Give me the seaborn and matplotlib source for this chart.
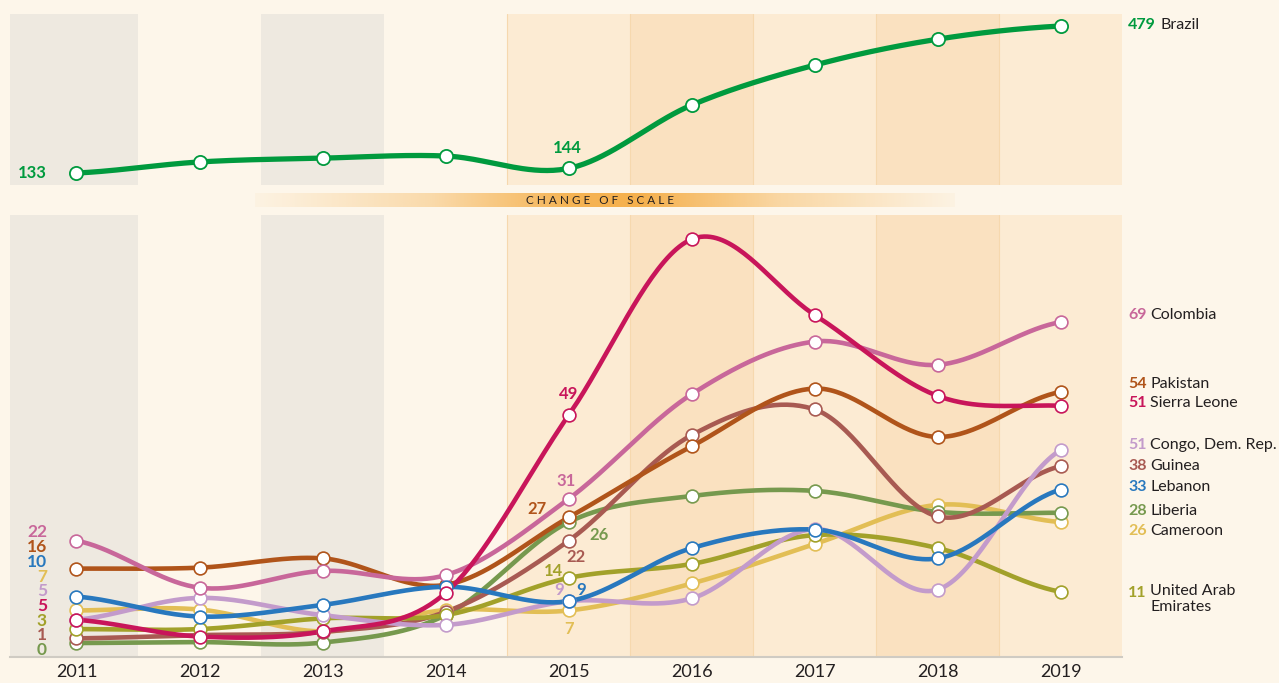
import numpy as np
import pandas as pd
import seaborn as sns
import matplotlib.pyplot as plt

sns.set_style("white")
plt.rcParams['font.family'] = ['Lato', 'DejaVu Sans']

# data
years = [2011, 2012, 2013, 2014, 2015, 2016, 2017, 2018, 2019]
brazil = [133, 159, 168, 173, 144, 293, 387, 448, 479]

countries = ['Cameroon', 'Liberia', 'Guinea', 'United Arab Emirates', 'Congo, Dem. Rep.',
             'Pakistan', 'Colombia', 'Lebanon', 'Sierra Leone']
colombia = [22, 11.9, 15.5, 14.6, 31, 53.5, 64.8, 59.8, 69]
pakistan = [16, 16.2, 18.2, 12.5, 27, 42.3, 54.7, 44.3, 54]
sierra_leone = [5, 1.4, 2.5, 10.8, 49, 86.8, 70.5, 53.1, 51]
congo = [5, 9.7, 6, 3.9, 9, 9.6, 24.5, 11.5, 41.5]
guinea = [1, 1.7, 2.4, 6.7, 22, 44.7, 50.2, 27.2, 38]
lebanon = [10, 5.7, 8.2, 12.1, 9, 20.4, 24.4, 18.2, 33]
liberia = [0, 0.2, 0.1, 6, 26, 31.6, 32.7, 28.2, 28]
cameroon = [7, 7.2, 2.5, 7.1, 7, 12.8, 21.3, 29.7, 26]
uae = [3, 3.0, 5.3, 6.0, 14, 17.0, 23.2, 20.4, 11]
# numbers printed at the right-hand end (Congo's printed value differs from its drawn point)
end_labels = {'Colombia': 69, 'Pakistan': 54, 'Sierra Leone': 51, 'Congo, Dem. Rep.': 51,
              'Guinea': 38, 'Lebanon': 33, 'Liberia': 28, 'Cameroon': 26,
              'United Arab Emirates': 11}

series = {'Colombia': colombia, 'Pakistan': pakistan, 'Sierra Leone': sierra_leone,
          'Congo, Dem. Rep.': congo, 'Guinea': guinea, 'Lebanon': lebanon,
          'Liberia': liberia, 'Cameroon': cameroon, 'United Arab Emirates': uae}

colors = {'Colombia': '#C8679A', 'Pakistan': '#B0541A', 'Sierra Leone': '#C8155A',
          'Congo, Dem. Rep.': '#C39BCB', 'Guinea': '#A85A52', 'Lebanon': '#2878BE',
          'Liberia': '#76994E', 'Cameroon': '#E2BE55', 'United Arab Emirates': '#A2A12A'}
brazil_col = '#009A3E'
text_col = '#231F20'
W, H = 1279, 683


def smooth(xs, ys, n=40):
    # catmull-rom curve through the points, only for drawing
    xs = np.asarray(xs, float)
    ys = np.asarray(ys, float)
    p = np.concatenate([[ys[0]], ys, [ys[-1]]])
    ox, oy = [], []
    for i in range(len(ys) - 1):
        t = np.linspace(0, 1, n, endpoint=(i == len(ys) - 2))
        p0, p1, p2, p3 = p[i], p[i + 1], p[i + 2], p[i + 3]
        y = 0.5 * (2 * p1 + (-p0 + p2) * t + (2 * p0 - 5 * p1 + 4 * p2 - p3) * t ** 2
                   + (-p0 + 3 * p1 - 3 * p2 + p3) * t ** 3)
        ox.extend(xs[i] + t * (xs[i + 1] - xs[i]))
        oy.extend(y)
    return ox, oy


def figpos(x, y):
    return x / W, 1 - y / H


fig = plt.figure(figsize=(12.79, 6.83), dpi=100)
fig.patch.set_facecolor('#FDF6EA')

ax_top = fig.add_axes([10 / W, 1 - 185 / H, 1112.5 / W, 171 / H])
ax_bot = fig.add_axes([10 / W, 1 - 657 / H, 1112.5 / W, 442 / H])

bands = ['#EEE9E0', '#FDF6EA', '#EEE9E0', '#FDF6EA', '#FCEBD3', '#FAE1C0',
         '#FCEBD3', '#FAE1C0', '#FCEBD3']
for ax in (ax_top, ax_bot):
    ax.set_facecolor('#FDF6EA')
    for yr, c in zip(years, bands):
        ax.axvspan(yr - 0.6 if yr == years[0] else yr - 0.5, yr + 0.5, color=c, lw=0, zorder=0)
    for yr in years[4:]:
        ax.axvline(yr - 0.5, color='#F6D8AE', lw=0.8, zorder=0.5)
    ax.set_xlim(2010.46, 2019.5)
    for s in ax.spines.values():
        s.set_visible(False)

# top panel: Brazil
bx, by = smooth(years, brazil)
sns.lineplot(x=bx, y=by, color=brazil_col, linewidth=3.8, ax=ax_top, sort=False,
             estimator=None, zorder=3)
ax_top.scatter(years, brazil, s=90, facecolor='white', edgecolor=brazil_col,
               linewidth=1.3, zorder=5)
ax_top.set_ylim(104.8, 507.2)
ax_top.set_xticks([])
ax_top.set_yticks([])
ax_top.annotate(f"{brazil[0]}", (years[0], brazil[0]), xytext=(-32, 0),
                textcoords='offset points', ha='center', va='center',
                fontsize=12, fontweight='bold', color=brazil_col)
ax_top.annotate(f"{brazil[4]}", (years[4], brazil[4]), xytext=(-1, 15),
                textcoords='offset points', ha='center', va='center',
                fontsize=12, fontweight='bold', color=brazil_col)

# bottom panel
rows = []
for name in countries:
    sx, sy = smooth(years, series[name])
    rows.append(pd.DataFrame({'year': sx, 'value': sy, 'country': name}))
df = pd.concat(rows, ignore_index=True)
sns.lineplot(data=df, x='year', y='value', hue='country', hue_order=countries,
             palette=colors, linewidth=3.3, legend=False, ax=ax_bot, sort=False,
             estimator=None, zorder=3)
for name in countries:
    ax_bot.scatter(years, series[name], s=85, facecolor='white',
                   edgecolor=colors[name], linewidth=1.2, zorder=5)
ax_bot.set_ylim(-3, 92)
ax_bot.set_yticks([])
ax_bot.set_xticks(years)
ax_bot.set_xticklabels([str(y) for y in years], fontsize=13, color=text_col)
ax_bot.tick_params(axis='x', length=0, pad=5)
ax_bot.spines['bottom'].set_visible(True)
ax_bot.spines['bottom'].set_color('#CFCBC3')
ax_bot.spines['bottom'].set_linewidth(1.5)
ax_bot.set_xlabel('')
ax_bot.set_ylabel('')

# left-hand start values, stacked
left_order = ['Colombia', 'Pakistan', 'Lebanon', 'Cameroon', 'Congo, Dem. Rep.',
              'Sierra Leone', 'United Arab Emirates', 'Guinea', 'Liberia']
for i, name in enumerate(left_order[::-1]):
    fig.text(*figpos(47, 650 - i * 14.7), f"{series[name][0]:.0f}", ha='right', va='center',
             fontsize=12.5, fontweight='bold', color=colors[name])

# 2015 value labels
mid_offsets = {'Sierra Leone': (0, 15), 'Colombia': (-2, 13), 'Pakistan': (-23, 6),
               'Liberia': (22, -9), 'Guinea': (5, -12), 'United Arab Emirates': (-11, 5),
               'Congo, Dem. Rep.': (-7, 8), 'Lebanon': (9, 8), 'Cameroon': (0, -13)}
for name, (dx, dy) in mid_offsets.items():
    v = series[name][4]
    ax_bot.annotate(f"{v:.0f}", (2015, v), xytext=(dx, dy), textcoords='offset points',
                    ha='center', va='center', fontsize=12, fontweight='bold',
                    color=colors[name], zorder=6)

# right-hand labels
right_y = {'Colombia': 315, 'Pakistan': 384, 'Sierra Leone': 403, 'Congo, Dem. Rep.': 445,
           'Guinea': 466, 'Lebanon': 487, 'Liberia': 511, 'Cameroon': 531,
           'United Arab Emirates': 593}
for name, ypx in right_y.items():
    fig.text(*figpos(1128, ypx), f"{end_labels[name]}", ha='left', va='center',
             fontsize=11.5, fontweight='bold', color=colors[name])
    if name == 'United Arab Emirates':
        fig.text(*figpos(1150, ypx - 9), 'United Arab\nEmirates', ha='left', va='top',
                 fontsize=11.5, color=text_col, linespacing=1.2)
    else:
        fig.text(*figpos(1150, ypx), name, ha='left', va='center',
                 fontsize=11.5, color=text_col)

fig.text(*figpos(1128, 25), f"{brazil[-1]}", ha='left', va='center',
         fontsize=11.5, fontweight='bold', color=brazil_col)
fig.text(*figpos(1160, 25), 'Brazil', ha='left', va='center',
         fontsize=11.5, color=text_col)

# "change of scale" band
ax_g = fig.add_axes([255 / W, 1 - 207 / H, 700 / W, 14 / H])
pos = np.linspace(0, 1, 400)
alpha = np.interp(pos, [0, 0.25, 0.45, 0.55, 0.75, 1.0], [0.05, 0.4, 0.95, 1.0, 0.45, 0.05])
grad = np.zeros((1, 400, 4))
grad[..., 0] = 245 / 255
grad[..., 1] = 176 / 255
grad[..., 2] = 76 / 255
grad[..., 3] = alpha
ax_g.imshow(grad, aspect='auto', extent=[0, 1, 0, 1])
ax_g.axis('off')
fig.text(*figpos(600, 200), '   '.join(' '.join(w) for w in 'CHANGE OF SCALE'.split()),
         ha='center', va='center', fontsize=8.5, color=text_col)

fig.savefig('out.png', dpi=100, facecolor=fig.get_facecolor())
